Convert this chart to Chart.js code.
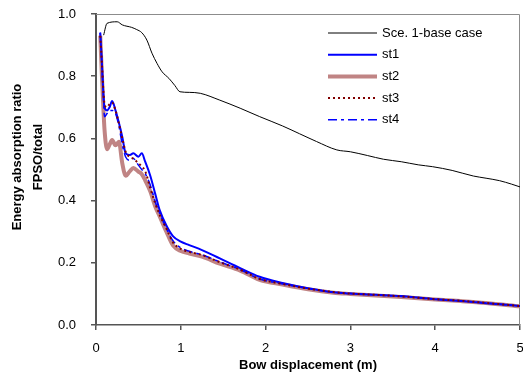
<!DOCTYPE html>
<html>
<head>
<meta charset="utf-8">
<script src="https://cdn.jsdelivr.net/npm/chart.js@4/dist/chart.umd.min.js"></script>
<style>
  html, body { margin: 0; padding: 0; background: #fff; overflow: hidden; }
  #wrap { width: 523px; height: 379px; position: relative; }
</style>
</head>
<body>
<div id="wrap"><canvas id="myChart"></canvas></div>
<script>
const FONT = "Arial, 'Liberation Sans', sans-serif";

// base case curve
const baseX = [0.09, 0.13, 0.25, 0.31, 0.42, 0.48, 0.54, 0.60, 0.66, 0.72, 0.78, 0.86, 0.93, 0.99,
  1.1, 1.23, 1.46, 1.7, 1.93, 2.2, 2.4, 2.6, 2.84, 3.0, 3.2, 3.39, 3.6, 3.8, 3.97, 4.2, 4.45, 4.6, 4.76, 4.9, 5.0];
const baseY = [0.932, 0.97, 0.975, 0.965, 0.957, 0.95, 0.94, 0.916, 0.874, 0.841, 0.814, 0.793, 0.77, 0.75,
  0.748, 0.745, 0.723, 0.697, 0.67, 0.64, 0.615, 0.59, 0.563, 0.557, 0.545, 0.533, 0.525, 0.515, 0.509, 0.497, 0.479, 0.472, 0.464, 0.453, 0.444];

// strengthened cases share the same displacement points
const stX = [0.05, 0.07, 0.09, 0.10, 0.13, 0.16, 0.19, 0.23, 0.27, 0.31, 0.35, 0.40, 0.44, 0.50, 0.54, 0.58,
  0.64, 0.70, 0.75, 0.83, 0.91, 1.0, 1.1, 1.25, 1.46, 1.7, 1.93, 2.2, 2.5, 2.8, 3.0, 3.3, 3.6, 4.0, 4.3, 4.6, 5.0];
const st1 = [0.94, 0.84, 0.73, 0.70, 0.69, 0.70, 0.72, 0.69, 0.65, 0.605, 0.552, 0.547, 0.552, 0.541, 0.552, 0.525,
  0.48, 0.42, 0.37, 0.32, 0.285, 0.268, 0.257, 0.241, 0.214, 0.183, 0.155, 0.135, 0.118, 0.105, 0.101, 0.097, 0.093, 0.083, 0.077, 0.07, 0.061];
const st2 = [0.93, 0.80, 0.68, 0.63, 0.565, 0.58, 0.595, 0.578, 0.589, 0.52, 0.48, 0.495, 0.505, 0.493, 0.485, 0.465,
  0.43, 0.38, 0.35, 0.30, 0.255, 0.238, 0.23, 0.22, 0.197, 0.175, 0.145, 0.13, 0.115, 0.104, 0.10, 0.095, 0.09, 0.082, 0.077, 0.071, 0.06];
const st3 = [0.93, 0.84, 0.74, 0.71, 0.70, 0.71, 0.715, 0.69, 0.648, 0.60, 0.557, 0.54, 0.535, 0.52, 0.51, 0.495,
  0.44, 0.39, 0.355, 0.31, 0.265, 0.245, 0.235, 0.225, 0.202, 0.178, 0.148, 0.132, 0.117, 0.106, 0.101, 0.097, 0.092, 0.083, 0.078, 0.071, 0.061];
const st4 = [0.94, 0.83, 0.72, 0.67, 0.68, 0.69, 0.69, 0.68, 0.64, 0.58, 0.54, 0.53, 0.535, 0.514, 0.50, 0.487,
  0.45, 0.395, 0.36, 0.31, 0.27, 0.248, 0.237, 0.226, 0.203, 0.178, 0.148, 0.132, 0.117, 0.106, 0.101, 0.097, 0.092, 0.083, 0.078, 0.071, 0.061];

const labels = ["Sce. 1-base case", "st1", "st2", "st3", "st4"];
const yTitle = ["Energy absorption ratio", "FPSO/total"];

function pts(xs, ys) {
  return xs.map((x, i) => ({ x: x, y: ys[i] }));
}

// legend drawn inside the plot, top right
const boxLegend = {
  id: "boxLegend",
  afterDatasetsDraw(chart) {
    const ctx = chart.ctx;
    ctx.save();
    chart.data.datasets.forEach((ds, i) => {
      const y = 33 + i * 21.7;
      ctx.beginPath();
      ctx.strokeStyle = ds.borderColor;
      ctx.lineWidth = ds.borderWidth;
      ctx.setLineDash(ds.borderDash || []);
      ctx.moveTo(328, y);
      ctx.lineTo(377, y);
      ctx.stroke();
      ctx.setLineDash([]);
      ctx.fillStyle = "#000";
      ctx.font = "13px " + FONT;
      ctx.textBaseline = "middle";
      ctx.fillText(ds.label, 382, y);
    });
    ctx.restore();
  },
};

// grey frame on top and right of plot + y axis title (sits a bit above centre in the original)
const frame = {
  id: "frame",
  beforeDatasetsDraw(chart) {
    const a = chart.chartArea;
    const ctx = chart.ctx;
    ctx.save();
    ctx.strokeStyle = "#8c8c8c";
    ctx.lineWidth = 1;
    ctx.beginPath();
    ctx.moveTo(a.left, a.top + 0.5);
    ctx.lineTo(a.right - 0.5, a.top + 0.5);
    ctx.lineTo(a.right - 0.5, a.bottom);
    ctx.stroke();

    ctx.translate(0, 157);
    ctx.rotate(-Math.PI / 2);
    ctx.fillStyle = "#000";
    ctx.font = "bold 13px " + FONT;
    ctx.textAlign = "center";
    ctx.textBaseline = "middle";
    ctx.fillText(yTitle[0], 0, 17);
    ctx.fillText(yTitle[1], 0, 38);
    ctx.restore();
  },
};

new Chart(document.getElementById("myChart"), {
  type: "line",
  data: {
    datasets: [
      {
        label: labels[0],
        data: pts(baseX, baseY),
        borderColor: "#000000",
        borderWidth: 1,
        order: 0,
      },
      {
        label: labels[1],
        data: pts(stX, st1),
        borderColor: "#0000ff",
        borderWidth: 2,
        order: 2,
      },
      {
        label: labels[2],
        data: pts(stX, st2),
        borderColor: "#c08484",
        borderWidth: 4,
        order: 3,
      },
      {
        label: labels[3],
        data: pts(stX, st3),
        borderColor: "#800000",
        borderWidth: 2,
        borderDash: [2, 3],
        order: 0,
      },
      {
        label: labels[4],
        data: pts(stX, st4),
        borderColor: "#0000ff",
        borderWidth: 1.5,
        borderDash: [9, 4, 3, 4],
        order: 1,
      },
    ],
  },
  options: {
    responsive: true,
    maintainAspectRatio: false,
    animation: false,
    layout: {
      padding: { top: 14, right: 3, bottom: 0, left: 0 },
    },
    elements: {
      point: { radius: 0 },
      line: { cubicInterpolationMode: "monotone", fill: false },
    },
    plugins: {
      legend: { display: false },
      tooltip: { enabled: false },
    },
    scales: {
      x: {
        type: "linear",
        min: 0,
        max: 5,
        afterFit: (s) => {
          s.height = 54;
          s.paddingRight = 0; // let the "5" hang off the edge like the original
        },
        ticks: { stepSize: 1, color: "#000", padding: 11, font: { family: FONT, size: 13 } },
        grid: { drawOnChartArea: false, tickLength: 5, color: "#555", lineWidth: 1.5 },
        border: { color: "#555", width: 1.5 },
        title: {
          display: true,
          text: "Bow displacement (m)",
          color: "#000",
          padding: { top: 0, bottom: 6 },
          font: { family: FONT, size: 13, weight: "bold" },
        },
      },
      y: {
        min: 0,
        max: 1,
        afterFit: (s) => {
          s.width = 96;
          s.paddingTop = 0;
          s.paddingBottom = 0;
        },
        ticks: {
          stepSize: 0.2,
          color: "#000",
          padding: 15,
          font: { family: FONT, size: 13 },
          callback: (v) => v.toFixed(1),
        },
        grid: { drawOnChartArea: false, tickLength: 5, color: "#555", lineWidth: 1.5 },
        border: { color: "#555", width: 2 },
      },
    },
  },
  plugins: [frame, boxLegend],
});
</script>
</body>
</html>
